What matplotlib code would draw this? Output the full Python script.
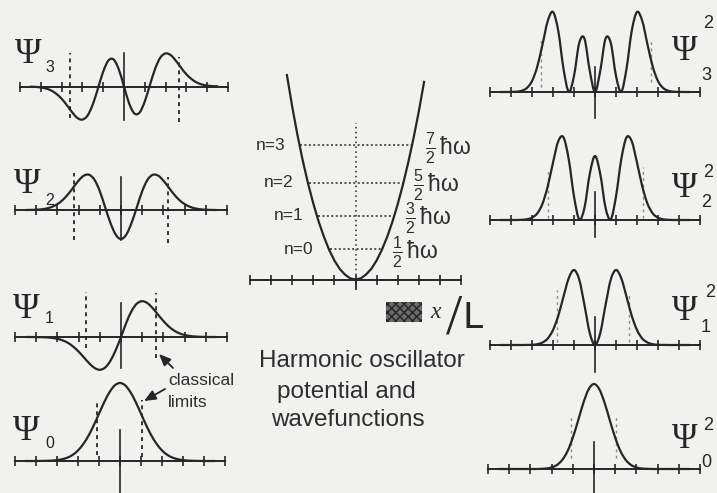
import numpy as np
import matplotlib
matplotlib.use('Agg')
import matplotlib.pyplot as plt
from matplotlib.path import Path
from matplotlib.patches import PathPatch, Rectangle

# [1. values]
# sample positions along each small axis (dimensionless x, ticks every 1)
x_grid = np.arange(-4.5, 4.51, 0.25)
tick_units = list(range(-5, 6))

# wavefunctions, height above the axis in px of the scan
psi_0 = [0, 0, 0, 0.1, 0.2, 0.4, 0.9, 1.8, 3.4, 6.2, 10.6, 16.9, 25.3, 35.7, 47.3, 58.9, 68.8, 75.6,
         78, 75.6, 68.8, 58.9, 47.3, 35.7, 25.3, 16.9, 10.6, 6.2, 3.4, 1.8, 0.9, 0.4, 0.2, 0.1, 0, 0, 0]
psi_1 = [0, 0, -0.1, -0.2, -0.4, -0.9, -1.8, -3.4, -5.9, -9.7, -14.6, -20.4, -26.3, -30.9, -32.8, -30.6, -23.8, -13.1,
         0, 14.3, 26.0, 33.4, 35.8, 33.8, 28.7, 22.3, 16.0, 10.6, 6.5, 3.7, 2.0, 1.0, 0.5, 0.2, 0.1, 0, 0]
psi_2 = [0, 0.1, 0.3, 0.7, 1.6, 3.2, 5.9, 10.0, 15.7, 22.5, 29.4, 34.4, 35.2, 30.2, 18.8, 2.9, -12.8, -24.6,
         -29, -24.6, -12.8, 2.9, 18.8, 30.2, 35.2, 34.4, 29.4, 22.5, 15.7, 10.0, 5.9, 3.2, 1.6, 0.7, 0.3, 0.1, 0]
psi_3 = [-0.2, -0.4, -1.0, -2.0, -4.0, -7.4, -12.2, -18.6, -25.6, -31.3, -33.1, -29.0, -17.9, -1.8, 14.9, 26.0, 27.0, 17.1,
         0, -17.1, -27.0, -26.0, -14.9, 1.8, 17.9, 29.0, 33.1, 31.3, 25.6, 18.6, 12.2, 7.4, 4.0, 2.0, 1.0, 0.4, 0.2]

# probability densities, px above the axis
prob_0 = [0, 0, 0, 0, 0, 0, 0, 0, 0.2, 0.5, 1.6, 4.0, 9.0, 17.8, 31.3, 48.4, 66.2, 79.8,
          85, 79.8, 66.2, 48.4, 31.3, 17.8, 9.0, 4.0, 1.6, 0.5, 0.2, 0, 0, 0, 0, 0, 0, 0, 0]
prob_1 = [0, 0, 0, 0, 0, 0.1, 0.2, 0.8, 2.5, 6.5, 15.0, 29.2, 48.4, 66.8, 75.0, 65.4, 39.7, 12.0,
          0, 12.0, 39.7, 65.4, 75.0, 66.8, 48.4, 29.2, 15.0, 6.5, 2.5, 0.8, 0.2, 0.1, 0, 0, 0, 0, 0]
prob_2 = [0, 0, 0, 0, 0.2, 0.7, 2.3, 6.6, 16.3, 33.7, 57.4, 78.7, 82.6, 60.6, 23.6, 0.6, 12.4, 46.0,
          64, 46.0, 12.4, 0.6, 23.6, 60.6, 82.6, 78.7, 57.4, 33.7, 16.3, 6.6, 2.3, 0.7, 0.2, 0, 0, 0, 0]
prob_3 = [0, 0, 0.1, 0.3, 1.2, 3.9, 10.9, 25.3, 47.5, 71.1, 80.0, 61.2, 23.3, 0.2, 16.1, 49.2, 53.2, 21.2,
          0, 21.2, 53.2, 49.2, 16.1, 0.2, 23.3, 61.2, 80.0, 71.1, 47.5, 25.3, 10.9, 3.9, 1.2, 0.3, 0.1, 0, 0]

# classical turning points as drawn (x units), n = 0..3
psi_limits = [[-1.1, 1.05], [-1.65, 1.67], [-2.2, 2.24], [-2.6, 2.64]]
prob_limits = [[-1.1, 1.05], [-1.81, 1.62], [-2.24, 2.29], [-2.57, 2.67]]

# potential well, in units of hbar*omega
pot_x = np.arange(-3.25, 3.26, 0.25)
pot_v = [5.38, 4.55, 3.8, 3.13, 2.53, 2.0, 1.53, 1.13, 0.78, 0.5, 0.28, 0.13, 0.03,
         0, 0.03, 0.13, 0.28, 0.5, 0.78, 1.12, 1.52, 1.98, 2.5, 3.08, 3.72, 4.42, 5.2]
levels = [0.79, 1.68, 2.55, 3.53]
level_left = [-1.2, -1.78, -2.2, -2.62]
level_right = [1.25, 1.82, 2.25, 2.68]
level_names = ['n=0', 'n=1', 'n=2', 'n=3']
level_energies = [r'$\frac{1}{2}\,\hbar\omega$', r'$\frac{3}{2}\,\hbar\omega$',
                  r'$\frac{5}{2}\,\hbar\omega$', r'$\frac{7}{2}\,\hbar\omega$']

# [2. look]
W, H = 717, 493
INK = '#262626'
TXT = '#2e2e2e'
PAPER = '#f1f1ef'
plt.rcParams['font.family'] = ['Liberation Sans', 'DejaVu Sans']
plt.rcParams['mathtext.fontset'] = 'custom'
plt.rcParams['mathtext.rm'] = 'Liberation Sans'
plt.rcParams['mathtext.it'] = 'Liberation Sans'

fig = plt.figure(figsize=(W / 100, H / 100), dpi=100, facecolor=PAPER)
ov = fig.add_axes([0, 0, 1, 1])
ov.set_xlim(0, W)
ov.set_ylim(H, 0)
ov.axis('off')


def panel(x0, x1, y_axis, up, down, scale=1.0):
    ax = fig.add_axes([x0 / W, 1 - (y_axis + down) / H, (x1 - x0) / W, (up + down) / H])
    ax.set_xlim(-5, 5)
    ax.set_ylim(-down / scale, up / scale)
    ax.axis('off')
    ax.patch.set_alpha(0)
    return ax


def smooth(ax, xs, ys, lw=1.6):
    # smooth line through the read points (Catmull-Rom as cubic Bezier)
    pts = np.column_stack([xs, ys]).astype(float)
    pad = np.vstack([pts[:1], pts, pts[-1:]])
    verts, codes = [pts[0]], [Path.MOVETO]
    for i in range(len(pts) - 1):
        p0, p1, p2, p3 = pad[i:i + 4]
        verts += [p1 + (p2 - p0) / 6, p2 - (p3 - p1) / 6, p2]
        codes += [Path.CURVE4] * 3
    ax.add_patch(PathPatch(Path(verts, codes), fill=False, lw=lw, ec=INK, capstyle='round', zorder=3))


def baseline(ax):
    ax.plot([-5, 5], [0, 0], color=INK, lw=1.4, clip_on=False, zorder=2)
    ax.plot(tick_units, np.zeros(len(tick_units)), ls='none', marker='|', ms=7, mew=1.2,
            color=INK, clip_on=False, zorder=2)


# [3. left column: wavefunctions]
left_boxes = [(15, 225, 461, 80, 32), (15, 227, 337, 46, 36), (15, 227, 210, 40, 36), (20, 228, 86.5, 37, 37)]
left_center = [(31, 32), (34, 31), (33, 30), (33.5, 33.5)]
left_dash = [[(58, 6), (61, 4)], [(45, -11), (44, -21)], [(37, -30), (33, -33)], [(33.5, -31.5), (29.5, -35.5)]]
for n, ys in enumerate([psi_0, psi_1, psi_2, psi_3]):
    ax = panel(*left_boxes[n])
    baseline(ax)
    ax.plot([0, 0], [-left_center[n][1], left_center[n][0]], color=INK, lw=1.2, clip_on=False)
    for xl, (top, bot) in zip(psi_limits[n], left_dash[n]):
        ax.plot([xl, xl], [bot, top], color=INK, lw=1.3, ls=(0, (2.2, 2.2)), clip_on=False)
    smooth(ax, x_grid, ys)

# [4. right column: probability densities]
right_boxes = [(488, 700, 469, 90, 26), (490, 700, 345, 80, 30), (490, 700, 220, 88, 20), (490, 700, 92, 85, 30)]
right_center = [(27, 24), (28, 27), (28, 17), (25, 26)]
right_dash = [[(52, 11), (52, 11)], [(55, 3), (53, 3)], [(50, 2), (53, 2)], [(55, 5), (52, 10)]]
for n, ys in enumerate([prob_0, prob_1, prob_2, prob_3]):
    ax = panel(*right_boxes[n])
    baseline(ax)
    ax.plot([0, 0], [-right_center[n][1], right_center[n][0]], color=INK, lw=1.2, clip_on=False)
    for xl, (top, bot) in zip(prob_limits[n], right_dash[n]):
        ax.plot([xl, xl], [bot, top], color='#8a8a8a', lw=1.0, ls=(0, (2, 2.5)), clip_on=False)
    smooth(ax, x_grid, ys)

# [5. middle: potential well]
PX = 38.0  # px per hbar*omega
mid = panel(250, 461, 279.5, 212, 14, PX)
baseline(mid)
mid.plot([0, 0], [0, 4.12], color=INK, lw=1.1, ls=(0, (1, 2.2)))
mid.plot([0, 0], [-9 / PX, 0], color=INK, lw=1.3, clip_on=False)
name_x = [-2.0, -2.48, -2.95, -3.33]
energy_x = [1.72, 2.34, 2.72, 3.29]
for E, xl, xr, name, nx, lab, ex in zip(levels, level_left, level_right, level_names, name_x,
                                        level_energies, energy_x):
    mid.plot([xl, xr], [E, E], color=INK, lw=1.1, ls=(0, (1.3, 1.6)))
    mid.text(nx, E, name, ha='right', va='center', fontsize=12.5, color=TXT)
    mid.text(ex, E - 0.08, lab, ha='left', va='center', fontsize=16.5, color=TXT)
mid.plot(pot_x, pot_v, color=INK, lw=1.6, zorder=3)

# [6. labels]
psi_pos = [(13, 440), (13, 318), (14, 193), (15, 63)]
psi_sub = [(45, 448), (45, 323), (45, 205), (45, 72)]
for n in range(4):
    ov.text(*psi_pos[n], 'Ψ', family='Liberation Serif', fontsize=26, ha='left', va='baseline', color=INK)
    ov.text(*psi_sub[n], str(n), fontsize=11.5, ha='left', va='baseline', color=INK)

prob_pos = [(672, 448), (672, 320), (672, 197), (672, 60)]
prob_sup = [(703, 430), (705, 297), (703, 177), (703, 28)]
prob_sub = [(701, 467), (701, 332), (701, 207), (701, 80)]
for n in range(4):
    ov.text(*prob_pos[n], 'Ψ', family='Liberation Serif', fontsize=25, ha='left', va='baseline', color=INK)
    ov.text(*prob_sup[n], '2', fontsize=13, ha='left', va='baseline', color=INK)
    ov.text(*prob_sub[n], str(n), fontsize=13, ha='left', va='baseline', color=INK)

ov.text(168, 385, 'classical', fontsize=12.5, ha='left', va='baseline', color=TXT)
ov.text(168, 407, 'limits', fontsize=12.5, ha='left', va='baseline', color=TXT)
arrow = dict(arrowstyle='-|>,head_length=0.7,head_width=0.3', lw=1.3, color=INK, shrinkA=0, shrinkB=0)
ov.annotate('', xy=(159, 354), xytext=(173, 368), arrowprops=arrow)
ov.annotate('', xy=(144, 401), xytext=(165, 389), arrowprops=arrow)

ov.text(362, 361, 'Harmonic oscillator', fontsize=17.5, ha='center', va='center', color=TXT)
ov.text(346, 392, 'potential and', fontsize=17.5, ha='center', va='center', color=TXT)
ov.text(347.5, 420, 'wavefunctions', fontsize=17.5, ha='center', va='center', color=TXT)

# hand-written axis label, with the crossed-out part
ov.add_patch(Rectangle((386, 302), 36, 20, facecolor='#6a6a6a', edgecolor=INK, hatch='xxxx', lw=0))
ov.text(436, 318, 'x', family='Liberation Serif', style='italic', fontsize=17, ha='center',
        va='baseline', color=TXT)
ov.text(454, 319, '/', family='Liberation Serif', fontsize=42, ha='center', va='center', color=INK)
ov.text(462, 328, 'L', family='DejaVu Sans', fontsize=26, ha='left', va='baseline', color=INK)

fig.savefig('out.png', dpi=100, facecolor=PAPER)
